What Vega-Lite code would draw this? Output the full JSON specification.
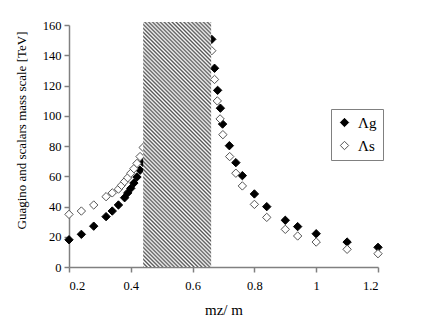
{
  "$schema": "https://vega.github.io/schema/vega-lite/v6.json",
  "autosize": "none",
  "width": 309,
  "height": 242,
  "padding": {"left": 69, "top": 25, "right": 58, "bottom": 60},
  "background": "white",
  "datasets": {
    "pts": [
      {"series": "Λg", "x": 0.2, "y": 18},
      {"series": "Λg", "x": 0.24, "y": 21.6},
      {"series": "Λg", "x": 0.28, "y": 27},
      {"series": "Λg", "x": 0.32, "y": 33.3},
      {"series": "Λg", "x": 0.34, "y": 37},
      {"series": "Λg", "x": 0.36, "y": 41},
      {"series": "Λg", "x": 0.38, "y": 45.8},
      {"series": "Λg", "x": 0.39, "y": 49},
      {"series": "Λg", "x": 0.4, "y": 52},
      {"series": "Λg", "x": 0.41, "y": 55.5},
      {"series": "Λg", "x": 0.42, "y": 59.5},
      {"series": "Λg", "x": 0.43, "y": 64},
      {"series": "Λg", "x": 0.44, "y": 69},
      {"series": "Λg", "x": 0.662, "y": 150.5},
      {"series": "Λg", "x": 0.671, "y": 131.4},
      {"series": "Λg", "x": 0.681, "y": 116.8},
      {"series": "Λg", "x": 0.69, "y": 105},
      {"series": "Λg", "x": 0.697, "y": 94.5},
      {"series": "Λg", "x": 0.719, "y": 80.2},
      {"series": "Λg", "x": 0.74, "y": 69},
      {"series": "Λg", "x": 0.761, "y": 60.4},
      {"series": "Λg", "x": 0.8, "y": 48.3},
      {"series": "Λg", "x": 0.84, "y": 39.9},
      {"series": "Λg", "x": 0.9, "y": 30.9},
      {"series": "Λg", "x": 0.94, "y": 26.7},
      {"series": "Λg", "x": 1.0, "y": 22},
      {"series": "Λg", "x": 1.1, "y": 16.5},
      {"series": "Λg", "x": 1.2, "y": 13},
      {"series": "Λs", "x": 0.2, "y": 34.8},
      {"series": "Λs", "x": 0.24, "y": 37},
      {"series": "Λs", "x": 0.28, "y": 41},
      {"series": "Λs", "x": 0.32, "y": 46.5},
      {"series": "Λs", "x": 0.34, "y": 49},
      {"series": "Λs", "x": 0.36, "y": 51.5},
      {"series": "Λs", "x": 0.37, "y": 54},
      {"series": "Λs", "x": 0.38, "y": 56.5},
      {"series": "Λs", "x": 0.39, "y": 59},
      {"series": "Λs", "x": 0.4, "y": 62},
      {"series": "Λs", "x": 0.41, "y": 65},
      {"series": "Λs", "x": 0.42, "y": 68.5},
      {"series": "Λs", "x": 0.43, "y": 73},
      {"series": "Λs", "x": 0.44, "y": 79},
      {"series": "Λs", "x": 0.662, "y": 143},
      {"series": "Λs", "x": 0.671, "y": 124},
      {"series": "Λs", "x": 0.68, "y": 109.8},
      {"series": "Λs", "x": 0.689, "y": 97.9},
      {"series": "Λs", "x": 0.698, "y": 87.5},
      {"series": "Λs", "x": 0.72, "y": 73},
      {"series": "Λs", "x": 0.74, "y": 62},
      {"series": "Λs", "x": 0.761, "y": 53.6},
      {"series": "Λs", "x": 0.8, "y": 41.4},
      {"series": "Λs", "x": 0.84, "y": 32.8},
      {"series": "Λs", "x": 0.9, "y": 24.9},
      {"series": "Λs", "x": 0.94, "y": 20.5},
      {"series": "Λs", "x": 1.0, "y": 16.5},
      {"series": "Λs", "x": 1.1, "y": 11.7},
      {"series": "Λs", "x": 1.2, "y": 8.8}
    ],
    "band": [{"x": 0.44, "x2": 0.66, "y": 0, "y2": 162}]
  },
  "layer": [
    {
      "data": {"name": "pts"},
      "mark": {"type": "point", "shape": "diamond", "size": 70, "filled": true, "strokeWidth": 1, "opacity": 1},
      "encoding": {
        "x": {"field": "x", "type": "quantitative",
          "scale": {"domain": [0.2, 1.2], "nice": false, "zero": false},
          "axis": {"title": "mz/ m", "values": [0.2, 0.4, 0.6, 0.8, 1, 1.2], "format": "~g", "titleFontSize": 15, "titleY": 42, "titleBaseline": "middle"}},
        "y": {"field": "y", "type": "quantitative",
          "scale": {"domain": [0, 160], "nice": false},
          "axis": {"title": "Guagino and scalars mass scale [TeV]", "values": [0, 20, 40, 60, 80, 100, 120, 140, 160], "titleFontSize": 13, "titleX": -41, "titleY": 105}},
        "fill": {"field": "series", "type": "nominal",
          "scale": {"domain": ["Λg", "Λs"], "range": ["#000000", "#ffffff"]},
          "legend": {"title": null}},
        "stroke": {"field": "series", "type": "nominal",
          "scale": {"domain": ["Λg", "Λs"], "range": ["#000000", "#555555"]},
          "legend": {"title": null}}
      }
    },
    {
      "data": {"name": "band"},
      "mark": {"type": "rect", "fill": {"gradient": "linear", "x1": 0, "y1": 1, "x2": 0.3293, "y2": -0.1862, "stops": [
        {"offset": 0, "color": "#555"}, {"offset": 0.00625, "color": "#fff"}, {"offset": 0.0125, "color": "#555"}, {"offset": 0.01875, "color": "#fff"},
        {"offset": 0.025, "color": "#555"}, {"offset": 0.03125, "color": "#fff"}, {"offset": 0.0375, "color": "#555"}, {"offset": 0.04375, "color": "#fff"},
        {"offset": 0.05, "color": "#555"}, {"offset": 0.05625, "color": "#fff"}, {"offset": 0.0625, "color": "#555"}, {"offset": 0.06875, "color": "#fff"},
        {"offset": 0.075, "color": "#555"}, {"offset": 0.08125, "color": "#fff"}, {"offset": 0.0875, "color": "#555"}, {"offset": 0.09375, "color": "#fff"},
        {"offset": 0.1, "color": "#555"}, {"offset": 0.10625, "color": "#fff"}, {"offset": 0.1125, "color": "#555"}, {"offset": 0.11875, "color": "#fff"},
        {"offset": 0.125, "color": "#555"}, {"offset": 0.13125, "color": "#fff"}, {"offset": 0.1375, "color": "#555"}, {"offset": 0.14375, "color": "#fff"},
        {"offset": 0.15, "color": "#555"}, {"offset": 0.15625, "color": "#fff"}, {"offset": 0.1625, "color": "#555"}, {"offset": 0.16875, "color": "#fff"},
        {"offset": 0.175, "color": "#555"}, {"offset": 0.18125, "color": "#fff"}, {"offset": 0.1875, "color": "#555"}, {"offset": 0.19375, "color": "#fff"},
        {"offset": 0.2, "color": "#555"}, {"offset": 0.20625, "color": "#fff"}, {"offset": 0.2125, "color": "#555"}, {"offset": 0.21875, "color": "#fff"},
        {"offset": 0.225, "color": "#555"}, {"offset": 0.23125, "color": "#fff"}, {"offset": 0.2375, "color": "#555"}, {"offset": 0.24375, "color": "#fff"},
        {"offset": 0.25, "color": "#555"}, {"offset": 0.25625, "color": "#fff"}, {"offset": 0.2625, "color": "#555"}, {"offset": 0.26875, "color": "#fff"},
        {"offset": 0.275, "color": "#555"}, {"offset": 0.28125, "color": "#fff"}, {"offset": 0.2875, "color": "#555"}, {"offset": 0.29375, "color": "#fff"},
        {"offset": 0.3, "color": "#555"}, {"offset": 0.30625, "color": "#fff"}, {"offset": 0.3125, "color": "#555"}, {"offset": 0.31875, "color": "#fff"},
        {"offset": 0.325, "color": "#555"}, {"offset": 0.33125, "color": "#fff"}, {"offset": 0.3375, "color": "#555"}, {"offset": 0.34375, "color": "#fff"},
        {"offset": 0.35, "color": "#555"}, {"offset": 0.35625, "color": "#fff"}, {"offset": 0.3625, "color": "#555"}, {"offset": 0.36875, "color": "#fff"},
        {"offset": 0.375, "color": "#555"}, {"offset": 0.38125, "color": "#fff"}, {"offset": 0.3875, "color": "#555"}, {"offset": 0.39375, "color": "#fff"},
        {"offset": 0.4, "color": "#555"}, {"offset": 0.40625, "color": "#fff"}, {"offset": 0.4125, "color": "#555"}, {"offset": 0.41875, "color": "#fff"},
        {"offset": 0.425, "color": "#555"}, {"offset": 0.43125, "color": "#fff"}, {"offset": 0.4375, "color": "#555"}, {"offset": 0.44375, "color": "#fff"},
        {"offset": 0.45, "color": "#555"}, {"offset": 0.45625, "color": "#fff"}, {"offset": 0.4625, "color": "#555"}, {"offset": 0.46875, "color": "#fff"},
        {"offset": 0.475, "color": "#555"}, {"offset": 0.48125, "color": "#fff"}, {"offset": 0.4875, "color": "#555"}, {"offset": 0.49375, "color": "#fff"},
        {"offset": 0.5, "color": "#555"}, {"offset": 0.50625, "color": "#fff"}, {"offset": 0.5125, "color": "#555"}, {"offset": 0.51875, "color": "#fff"},
        {"offset": 0.525, "color": "#555"}, {"offset": 0.53125, "color": "#fff"}, {"offset": 0.5375, "color": "#555"}, {"offset": 0.54375, "color": "#fff"},
        {"offset": 0.55, "color": "#555"}, {"offset": 0.55625, "color": "#fff"}, {"offset": 0.5625, "color": "#555"}, {"offset": 0.56875, "color": "#fff"},
        {"offset": 0.575, "color": "#555"}, {"offset": 0.58125, "color": "#fff"}, {"offset": 0.5875, "color": "#555"}, {"offset": 0.59375, "color": "#fff"},
        {"offset": 0.6, "color": "#555"}, {"offset": 0.60625, "color": "#fff"}, {"offset": 0.6125, "color": "#555"}, {"offset": 0.61875, "color": "#fff"},
        {"offset": 0.625, "color": "#555"}, {"offset": 0.63125, "color": "#fff"}, {"offset": 0.6375, "color": "#555"}, {"offset": 0.64375, "color": "#fff"},
        {"offset": 0.65, "color": "#555"}, {"offset": 0.65625, "color": "#fff"}, {"offset": 0.6625, "color": "#555"}, {"offset": 0.66875, "color": "#fff"},
        {"offset": 0.675, "color": "#555"}, {"offset": 0.68125, "color": "#fff"}, {"offset": 0.6875, "color": "#555"}, {"offset": 0.69375, "color": "#fff"},
        {"offset": 0.7, "color": "#555"}, {"offset": 0.70625, "color": "#fff"}, {"offset": 0.7125, "color": "#555"}, {"offset": 0.71875, "color": "#fff"},
        {"offset": 0.725, "color": "#555"}, {"offset": 0.73125, "color": "#fff"}, {"offset": 0.7375, "color": "#555"}, {"offset": 0.74375, "color": "#fff"},
        {"offset": 0.75, "color": "#555"}, {"offset": 0.75625, "color": "#fff"}, {"offset": 0.7625, "color": "#555"}, {"offset": 0.76875, "color": "#fff"},
        {"offset": 0.775, "color": "#555"}, {"offset": 0.78125, "color": "#fff"}, {"offset": 0.7875, "color": "#555"}, {"offset": 0.79375, "color": "#fff"},
        {"offset": 0.8, "color": "#555"}, {"offset": 0.80625, "color": "#fff"}, {"offset": 0.8125, "color": "#555"}, {"offset": 0.81875, "color": "#fff"},
        {"offset": 0.825, "color": "#555"}, {"offset": 0.83125, "color": "#fff"}, {"offset": 0.8375, "color": "#555"}, {"offset": 0.84375, "color": "#fff"},
        {"offset": 0.85, "color": "#555"}, {"offset": 0.85625, "color": "#fff"}, {"offset": 0.8625, "color": "#555"}, {"offset": 0.86875, "color": "#fff"},
        {"offset": 0.875, "color": "#555"}, {"offset": 0.88125, "color": "#fff"}, {"offset": 0.8875, "color": "#555"}, {"offset": 0.89375, "color": "#fff"},
        {"offset": 0.9, "color": "#555"}, {"offset": 0.90625, "color": "#fff"}, {"offset": 0.9125, "color": "#555"}, {"offset": 0.91875, "color": "#fff"},
        {"offset": 0.925, "color": "#555"}, {"offset": 0.93125, "color": "#fff"}, {"offset": 0.9375, "color": "#555"}, {"offset": 0.94375, "color": "#fff"},
        {"offset": 0.95, "color": "#555"}, {"offset": 0.95625, "color": "#fff"}, {"offset": 0.9625, "color": "#555"}, {"offset": 0.96875, "color": "#fff"},
        {"offset": 0.975, "color": "#555"}, {"offset": 0.98125, "color": "#fff"}, {"offset": 0.9875, "color": "#555"}, {"offset": 0.99375, "color": "#fff"},
        {"offset": 1, "color": "#555"}
      ]}},
      "encoding": {
        "x": {"field": "x", "type": "quantitative", "scale": {"domain": [0.2, 1.2], "nice": false, "zero": false},
          "axis": {"title": "mz/ m", "values": [0.2, 0.4, 0.6, 0.8, 1, 1.2], "format": "~g", "titleFontSize": 15, "titleY": 42, "titleBaseline": "middle"}},
        "x2": {"field": "x2"},
        "y": {"field": "y", "type": "quantitative", "scale": {"domain": [0, 160], "nice": false},
          "axis": {"title": "Guagino and scalars mass scale [TeV]", "values": [0, 20, 40, 60, 80, 100, 120, 140, 160], "titleFontSize": 13, "titleX": -41, "titleY": 105}},
        "y2": {"field": "y2"}
      }
    }
  ],
  "resolve": {"scale": {"x": "shared", "y": "shared"}},
  "config": {
    "font": "'Liberation Serif', 'Times New Roman', serif",
    "view": {"stroke": null},
    "axis": {
      "grid": false,
      "domainColor": "#808080",
      "domainWidth": 1.5,
      "tickColor": "#808080",
      "tickWidth": 1.5,
      "tickSize": 5,
      "labelColor": "#000000",
      "titleColor": "#000000",
      "labelFont": "'Liberation Serif', 'Times New Roman', serif",
      "titleFont": "'Liberation Serif', 'Times New Roman', serif",
      "labelFontSize": 12.5,
      "titleFontWeight": "normal"
    },
    "axisY": {"labelPadding": 3},
    "axisX": {"labelPadding": 7},
    "legend": {
      "orient": "none",
      "legendX": 262,
      "legendY": 84,
      "strokeColor": "#808080",
      "fillColor": "#ffffff",
      "padding": 6,
      "rowPadding": 7,
      "symbolType": "diamond",
      "symbolSize": 70,
      "symbolStrokeWidth": 1,
      "labelFont": "'Liberation Serif', 'Times New Roman', serif",
      "labelFontSize": 15,
      "labelColor": "#000000",
      "labelOffset": 6
    }
  }
}
